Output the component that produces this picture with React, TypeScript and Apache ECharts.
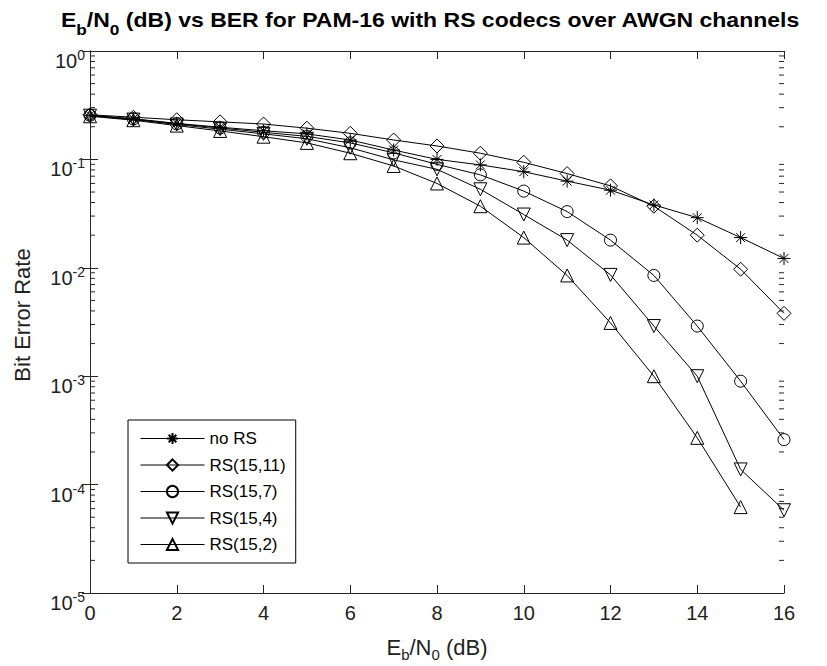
import React, { useEffect, useRef } from "react";
import * as echarts from "echarts";

const ebn0 = [0, 1, 2, 3, 4, 5, 6, 7, 8, 9, 10, 11, 12, 13, 14, 15, 16];
const noRS = [0.255, 0.237, 0.215, 0.198, 0.184, 0.172, 0.151, 0.122, 0.1, 0.089, 0.077, 0.063, 0.052, 0.038, 0.029, 0.019, 0.0122];
const rs1511 = [0.258, 0.245, 0.232, 0.222, 0.212, 0.194, 0.174, 0.151, 0.133, 0.114, 0.094, 0.074, 0.057, 0.037, 0.02, 0.0097, 0.0038];
const rs157 = [0.255, 0.236, 0.213, 0.195, 0.178, 0.163, 0.142, 0.115, 0.09, 0.072, 0.051, 0.033, 0.018, 0.0085, 0.0029, 0.0009, 0.00026];
const rs154 = [0.253, 0.233, 0.21, 0.19, 0.172, 0.155, 0.128, 0.099, 0.081, 0.053, 0.031, 0.018, 0.0086, 0.0029, 0.001, 0.000138, 0.000058];
const rs152 = [0.25, 0.23, 0.205, 0.183, 0.162, 0.142, 0.114, 0.087, 0.06, 0.037, 0.019, 0.0085, 0.0031, 0.001, 0.00027, 0.000062, null];

const seriesNames = ["no RS", "RS(15,11)", "RS(15,7)", "RS(15,4)", "RS(15,2)"];
const decades = [-5, -4, -3, -2, -1];
const minorMultipliers = [2, 3, 4, 5, 6, 7, 8, 9];

const FONT = "'Liberation Sans', Arial, sans-serif";
const AX = "#262626";
const TXT = "#222";

const asterisk = "path://M5 0L5 10M0 5L10 5M1.6 1.6L8.4 8.4M1.6 8.4L8.4 1.6";

function pairs(vals: (number | null)[]) {
  const out: [number, number][] = [];
  vals.forEach((v, i) => {
    if (v !== null) out.push([ebn0[i], v]);
  });
  return out;
}

export default function App() {
  const ref = useRef<HTMLDivElement>(null);
  useEffect(() => {
    if (!ref.current) return;
    const chart = echarts.init(ref.current, null, { renderer: "svg" });
    const minorTicks: [number, number][] = [];
    decades.forEach((d) => minorMultipliers.forEach((m) => minorTicks.push([0, m * Math.pow(10, d)])));

    const lineSeries = (name: string, vals: (number | null)[], symbol: string, size: number, rotate = 0) => ({
      name,
      type: "line",
      data: pairs(vals),
      symbol,
      symbolSize: size,
      symbolRotate: rotate,
      showAllSymbol: true,
      lineStyle: { color: "#000", width: 1 },
      itemStyle: { color: "none", borderColor: "#000", borderWidth: 1 },
      emphasis: { disabled: true },
      z: 3,
    });

    const supRich = {
      b: { fontSize: 20, fontFamily: FONT, color: TXT, padding: [10, 0, 0, 0], lineHeight: 20, verticalAlign: "top" },
      s: { fontSize: 14, fontFamily: FONT, color: TXT, padding: [7, 0, 0, 0], lineHeight: 14, verticalAlign: "top" },
    };

    const option: any = {
      animation: false,
      backgroundColor: "#fff",
      graphic: [
        {
          type: "text",
          left: 61,
          top: 10,
          scaleX: 1.15,
          silent: true,
          style: {
            text: "{n|E}{s|b}{n|/N}{s|0}{n| (dB) vs BER for PAM-16 with RS codecs over AWGN channels}",
            rich: {
              n: { fontSize: 20, fontWeight: "bold", fontFamily: FONT, fill: "#000", lineHeight: 22, verticalAlign: "top" },
              s: { fontSize: 15, fontWeight: "bold", fontFamily: FONT, fill: "#000", lineHeight: 16, padding: [12, 0, 0, 0], verticalAlign: "top" },
            },
          },
        },
      ],
      grid: { left: 90, right: 43, top: 51, bottom: 73, outerBoundsMode: "none", containLabel: false },
      legend: {
        data: seriesNames,
        orient: "vertical",
        left: 128,
        top: 420,
        itemWidth: 64,
        itemHeight: 14,
        itemGap: 9.5,
        padding: [10, 10, 10, 12],
        borderColor: "#000",
        borderWidth: 1,
        backgroundColor: "#fff",
        lineStyle: { width: 1, color: "#000" },
        textStyle: { fontSize: 17, fontFamily: FONT, color: "#000" },
        selectedMode: false,
      },
      xAxis: [
        {
          type: "value",
          min: 0,
          max: 16,
          interval: 2,
          position: "bottom",
          name: "{n|E}{s|b}{n|/N}{s|0}{n| (dB)}",
          nameLocation: "middle",
          nameGap: 43,
          nameTextStyle: {
            rich: {
              n: { fontSize: 22, fontFamily: FONT, color: TXT, lineHeight: 22, verticalAlign: "top" },
              s: { fontSize: 15, fontFamily: FONT, color: TXT, lineHeight: 15, padding: [11, 0, 0, 0], verticalAlign: "top" },
            },
          },
          axisLine: { show: true, lineStyle: { color: AX, width: 1 } },
          axisTick: { show: true, inside: true, length: 8, lineStyle: { color: AX } },
          axisLabel: { fontSize: 20, fontFamily: FONT, color: TXT, margin: 10 },
          splitLine: { show: false },
        },
        {
          type: "value",
          min: 0,
          max: 16,
          interval: 2,
          position: "top",
          axisLine: { show: true, lineStyle: { color: AX, width: 1 } },
          axisTick: { show: true, inside: true, length: 8, lineStyle: { color: AX } },
          axisLabel: { show: false },
          splitLine: { show: false },
        },
      ],
      yAxis: [
        {
          type: "log",
          logBase: 10,
          min: 1e-5,
          max: 1,
          position: "left",
          name: "Bit Error Rate",
          nameLocation: "middle",
          nameGap: 57,
          nameRotate: 90,
          nameTextStyle: { fontSize: 22, fontFamily: FONT, color: TXT, padding: [0, 0, 0, 14] },
          axisLine: { show: true, lineStyle: { color: AX, width: 1 } },
          axisTick: { show: true, inside: true, length: 8, lineStyle: { color: AX } },
          axisLabel: {
            margin: 5,
            formatter: (v: number) => `{b|10}{s|${Math.round(Math.log10(v))}}`,
            rich: supRich,
          },
          splitLine: { show: false },
        },
        {
          type: "log",
          logBase: 10,
          min: 1e-5,
          max: 1,
          position: "right",
          axisLine: { show: true, lineStyle: { color: AX, width: 1 } },
          axisTick: { show: true, inside: true, length: 8, lineStyle: { color: AX } },
          axisLabel: { show: false },
          splitLine: { show: false },
        },
      ],
      series: [
        {
          type: "custom",
          silent: true,
          xAxisIndex: 0,
          yAxisIndex: 0,
          data: minorTicks,
          z: 1,
          renderItem: (_p: any, api: any) => {
            const v = api.value(1);
            const l = api.coord([0, v]);
            const r = api.coord([16, v]);
            return {
              type: "group",
              children: [
                { type: "line", shape: { x1: l[0], y1: l[1], x2: l[0] + 5, y2: l[1] }, style: { stroke: AX, lineWidth: 1 } },
                { type: "line", shape: { x1: r[0] - 5, y1: r[1], x2: r[0], y2: r[1] }, style: { stroke: AX, lineWidth: 1 } },
              ],
            };
          },
        },
        lineSeries(seriesNames[0], noRS, asterisk, 13),
        lineSeries(seriesNames[1], rs1511, "diamond", 14),
        lineSeries(seriesNames[2], rs157, "circle", 12),
        lineSeries(seriesNames[3], rs154, "triangle", 13, 180),
        lineSeries(seriesNames[4], rs152, "triangle", 13),
      ],
    };
    chart.setOption(option);
    return () => chart.dispose();
  }, []);
  return <div ref={ref} style={{ position: "absolute", left: 0, top: 0, width: 827, height: 666 }} />;
}
